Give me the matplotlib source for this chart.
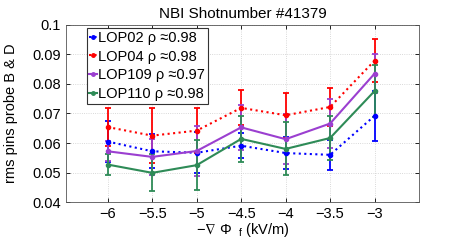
import numpy as np
import matplotlib
matplotlib.use("Agg")
import matplotlib.pyplot as plt
from matplotlib.lines import Line2D

plt.rcParams['font.family'] = ['Liberation Sans', 'DejaVu Sans']
plt.rcParams['mathtext.fontset'] = 'custom'
plt.rcParams['mathtext.rm'] = 'Liberation Sans'
plt.rcParams['mathtext.default'] = 'regular'
plt.rcParams['mathtext.fallback'] = 'stixsans'

x = [-6, -5.5, -5, -4.5, -4, -3.5, -3]

lop02 = [0.0605, 0.0572, 0.0567, 0.0591, 0.0566, 0.0560, 0.0692]
lop02_err = [0.0068, 0.0057, 0.0070, 0.0042, 0.0054, 0.0050, 0.0084]
lop04 = [0.0654, 0.0625, 0.0642, 0.0719, 0.0694, 0.0722, 0.0879]
lop04_err = [0.0064, 0.0092, 0.0077, 0.0059, 0.0076, 0.0066, 0.0074]
lop109 = [0.0572, 0.0553, 0.0573, 0.0653, 0.0613, 0.0666, 0.0835]
lop109_err = [0.0034, 0.0062, 0.0085, 0.0077, 0.0085, 0.0082, 0.0065]
lop110 = [0.0527, 0.0499, 0.0525, 0.0614, 0.0580, 0.0617, 0.0776]
lop110_err = [0.0037, 0.0063, 0.0084, 0.0079, 0.0090, 0.0074, 0.0087]

labels = ["LOP02 ρ ≈0.98", "LOP04 ρ ≈0.98", "LOP109 ρ ≈0.97", "LOP110 ρ ≈0.98"]
colors = ["#0000ff", "#ff0000", "#9b3fd0", "#2e8b57"]
styles = [":", ":", "-", "-"]

fig = plt.figure(figsize=(4.63, 2.42), dpi=100)
ax = fig.add_axes([0.1425, 0.165, 0.7625, 0.732])

series = [(lop02, lop02_err), (lop04, lop04_err), (lop109, lop109_err), (lop110, lop110_err)]
handles = []
for (y, e), lab, c, ls in zip(series, labels, colors, styles):
    ax.errorbar(x, y, yerr=e, color=c, ls=ls, lw=1.5, marker='o', ms=3,
                capsize=2.5, elinewidth=1.3, capthick=1.3)
    handles.append(Line2D([], [], color=c, ls=ls, lw=1.5, marker='o', ms=2.5, label=lab))

ax.set_xlim(-6.47, -2.5)
ax.set_ylim(0.04, 0.1)
ax.set_xticks(x)
ax.set_xticklabels(["−6", "−5.5", "−5", "−4.5", "−4", "−3.5", "−3"])
ax.set_yticks([0.04, 0.05, 0.06, 0.07, 0.08, 0.09, 0.1])
ax.set_yticklabels(["0.04", "0.05", "0.06", "0.07", "0.08", "0.09", "0.1"])
ax.tick_params(direction='in', top=True, right=True, labelsize=10.5, length=3, width=0.6)
ax.grid(True, ls=':', color='#cccccc', lw=0.6)
for s in ax.spines.values():
    s.set_linewidth(0.6)
    s.set_color('#555555')

ax.set_title("NBI Shotnumber #41379", fontsize=11, pad=5)
ax.set_ylabel("rms pins probe B & D", fontsize=10.5)
ax.yaxis.set_label_coords(-0.135, 0.5)
ax.set_xlabel(r"$-\nabla\ \Phi_{\ \ f}$ (kV/m)", fontsize=10.5, labelpad=0)

leg = ax.legend(handles=handles, loc='upper left', bbox_to_anchor=(0.05, 1.0), fontsize=10.5,
                handlelength=0.5, handletextpad=0.1, borderpad=0.2,
                labelspacing=0.33, fancybox=False, framealpha=1, borderaxespad=0.2)
leg.get_frame().set_edgecolor('#333333')
leg.get_frame().set_linewidth(0.8)

fig.savefig("out.png", dpi=100)
